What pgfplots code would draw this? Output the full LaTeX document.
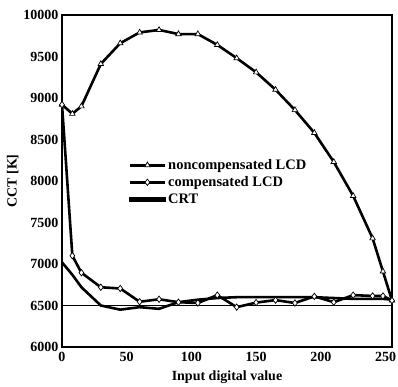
\documentclass[border=0pt]{standalone}
\usepackage{fontspec}
\setmainfont{Liberation Serif}
\usepackage{pgfplots}
\pgfplotsset{compat=1.18}
\begin{document}
\begin{tikzpicture}
\path[use as bounding box] (-62pt,-40pt) rectangle (336pt,347pt);
\begin{axis}[
  scale only axis, width=330pt, height=332pt, at={(0,0)}, anchor=south west,
  xmin=0, xmax=255, ymin=6000, ymax=10000,
  xtick={0,50,...,250}, ytick={6000,6500,...,10000},
  major tick length=0pt,
  scaled ticks=false,
  axis line style={line width=1.2pt},
  /pgf/number format/assume math mode=true,
  /pgf/number format/1000 sep={},
  tick label style={font=\fontsize{14}{14}\selectfont\bfseries},
  xticklabel style={yshift=-2pt},
  label style={font=\fontsize{14}{16}\selectfont\bfseries},
  xlabel={Input digital value}, ylabel={CCT [K]},
  xlabel style={at={(axis description cs:0.5,0)}, anchor=center, yshift=-30pt},
  ylabel style={at={(axis description cs:-0.149,0.5)}, anchor=center},
  legend style={draw=none, fill=none, at={(axis cs:49,8310)}, anchor=north west,
    font=\fontsize{14.5}{15}\selectfont\bfseries, row sep=1.5pt},
  legend cell align=left,
]
\addplot[black, line width=2.6pt, mark=triangle*, mark options={fill=white, line width=0.7pt, scale=1.6},
  legend image code/.code={\draw[mark repeat=2,mark phase=2] plot coordinates {(0pt,0pt)(17.5pt,0pt)(35pt,0pt)};}] coordinates {
(0,8920)(8,8810)(15,8900)(30,9410)(45,9660)(60,9790)(75,9820)(90,9770)(105,9770)(120,9640)
(135,9480)(150,9310)(165,9100)(180,8855)(195,8580)(210,8230)(225,7820)(240,7310)(248,6910)(255,6560)};
\addlegendentry{noncompensated LCD}
\addplot[black, line width=2.6pt, mark=diamond*, mark options={fill=white, line width=0.7pt, scale=1.6},
  legend image code/.code={\draw[mark repeat=2,mark phase=2] plot coordinates {(0pt,0pt)(17.5pt,0pt)(35pt,0pt)};}] coordinates {
(0,8920)(8,7100)(15,6895)(30,6720)(45,6705)(60,6545)(75,6575)(90,6540)(105,6530)(120,6625)
(135,6480)(150,6535)(165,6565)(180,6530)(195,6610)(210,6540)(225,6625)(240,6615)(248,6615)(255,6560)};
\addlegendentry{compensated LCD}
\addplot[black, line width=2.6pt, mark=none,
  legend image code/.code={\fill[black] (0pt,-1.3pt) rectangle (35pt,1.3pt);}] coordinates {
(0,7020)(8,6870)(15,6720)(30,6500)(45,6450)(60,6480)(75,6460)(90,6540)(105,6570)(120,6590)
(135,6600)(150,6600)(165,6600)(180,6600)(195,6600)(210,6590)(225,6580)(240,6580)(248,6580)(255,6570)};
\addlegendentry{CRT}
\addplot[black, forget plot, line width=0.8pt] coordinates {(0,6500)(255,6500)};
\end{axis}
\end{tikzpicture}
\end{document}
